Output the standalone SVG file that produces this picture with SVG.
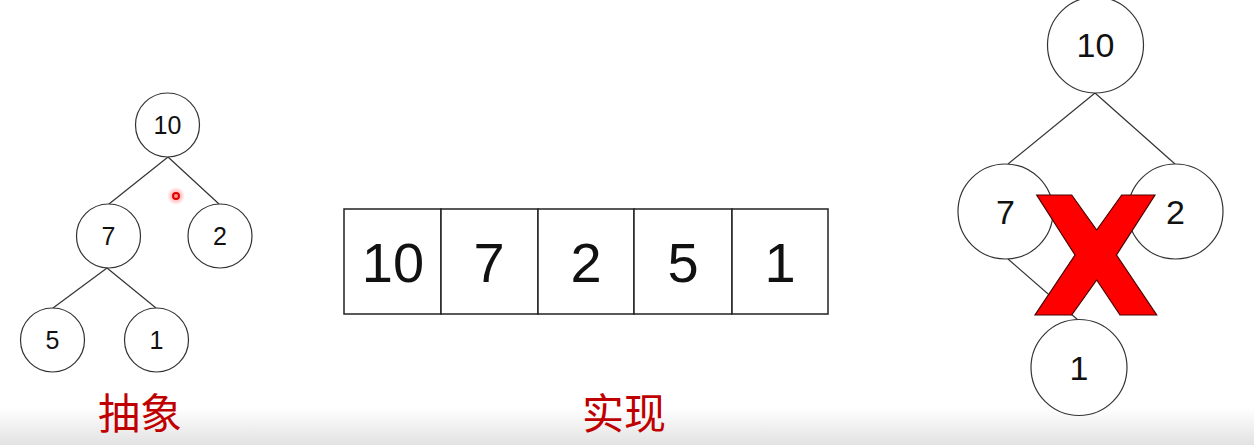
<svg xmlns="http://www.w3.org/2000/svg" width="1254" height="445" viewBox="0 0 1254 445">
<defs>
<linearGradient id="bg" x1="0" y1="0" x2="0" y2="1">
<stop offset="0" stop-color="#ffffff"/>
<stop offset="1" stop-color="#e2e2e2"/>
</linearGradient>
<radialGradient id="glow">
<stop offset="0" stop-color="#ff3030" stop-opacity="0.6"/>
<stop offset="1" stop-color="#ff3030" stop-opacity="0"/>
</radialGradient>
<style>
.n{fill:#fff;stroke:#333;stroke-width:1.2}
.e{stroke:#333;stroke-width:1.2;fill:none}
.t{font-family:"Liberation Sans",Arial,sans-serif;fill:#111;text-anchor:middle}
.cn{font-family:"Noto Sans CJK SC","Noto Sans",sans-serif;fill:#c00000;text-anchor:middle;font-size:42px}
.cell{fill:#fff;stroke:#222;stroke-width:1.5}
</style>
</defs>
<rect x="0" y="0" width="1254" height="445" fill="#fff"/>
<rect x="0" y="408" width="1254" height="37" fill="url(#bg)"/>
<g id="connectors">
<line class="e" x1="168" y1="157" x2="109" y2="204"/>
<line class="e" x1="168" y1="157" x2="219" y2="204"/>
<line class="e" x1="107" y1="268" x2="53" y2="308"/>
<line class="e" x1="107" y1="268" x2="156" y2="308"/>
<line class="e" x1="1095" y1="93" x2="1008" y2="164"/>
<line class="e" x1="1095" y1="93" x2="1175" y2="164"/>
<line class="e" x1="1008" y1="259" x2="1078" y2="320"/>
</g>
<g id="a10"><circle class="n" cx="167.5" cy="125" r="32"/><text class="t" x="167.5" y="134" font-size="25">10</text></g>
<g id="a7"><circle class="n" cx="108.5" cy="236" r="32"/><text class="t" x="108.5" y="245" font-size="25">7</text></g>
<g id="a2"><circle class="n" cx="220" cy="236" r="32"/><text class="t" x="220" y="245" font-size="25">2</text></g>
<g id="a5"><circle class="n" cx="52.5" cy="340" r="32"/><text class="t" x="52.5" y="349" font-size="25">5</text></g>
<g id="a1"><circle class="n" cx="156.5" cy="340" r="32"/><text class="t" x="156.5" y="349" font-size="25">1</text></g>
<g id="cursor"><circle cx="176" cy="196" r="9" fill="url(#glow)"/><circle cx="176" cy="196" r="3" fill="none" stroke="#e00000" stroke-width="2"/></g>
<g id="label-abstract"><text class="cn" x="140" y="429">抽象</text></g>
<g id="array">
<rect class="cell" x="344" y="209" width="97" height="105"/>
<rect class="cell" x="441" y="209" width="97" height="105"/>
<rect class="cell" x="538" y="209" width="96" height="105"/>
<rect class="cell" x="634" y="209" width="98" height="105"/>
<rect class="cell" x="732" y="209" width="96" height="105"/>
<text class="t" x="393" y="282" font-size="56">10</text>
<text class="t" x="489" y="282" font-size="56">7</text>
<text class="t" x="586" y="282" font-size="56">2</text>
<text class="t" x="683" y="282" font-size="56">5</text>
<text class="t" x="780" y="282" font-size="56">1</text>
</g>
<g id="label-impl"><text class="cn" x="624" y="429">实现</text></g>
<g id="b10"><circle class="n" cx="1095.5" cy="45" r="48"/><text class="t" x="1095.5" y="57" font-size="34">10</text></g>
<g id="b7"><circle class="n" cx="1005.5" cy="211.5" r="47.5"/><text class="t" x="1005.5" y="224" font-size="34">7</text></g>
<g id="b2"><circle class="n" cx="1175.5" cy="211.5" r="47.5"/><text class="t" x="1175.5" y="224" font-size="34">2</text></g>
<g id="b1"><circle class="n" cx="1079" cy="367.5" r="48"/><text class="t" x="1079" y="380" font-size="34">1</text></g>
<g id="cross"><polygon points="1036.7,195 1071.7,195 1096.7,230 1121.7,195 1155,195 1116.5,255 1156.7,315 1120,315 1096.7,280 1071.7,315 1035,315 1075,255" fill="#ff0000" stroke="#4a0000" stroke-width="1.2" stroke-linejoin="miter"/></g>
</svg>
